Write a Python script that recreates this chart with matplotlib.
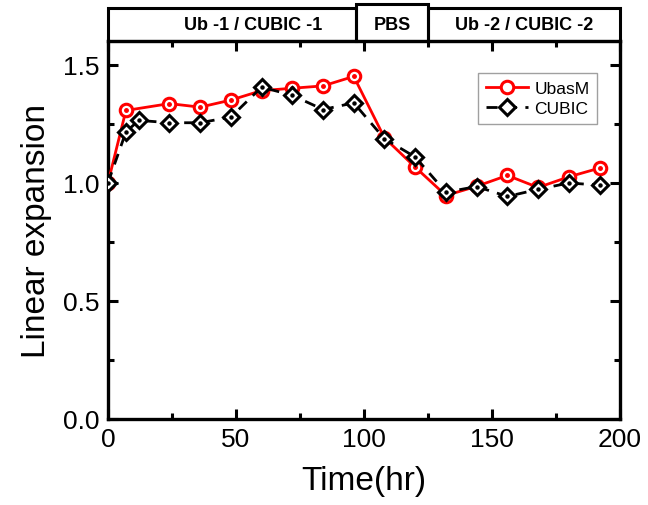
import matplotlib
matplotlib.use("Agg")
import matplotlib.pyplot as plt
from matplotlib.patches import Rectangle

plt.rcParams['font.family'] = ['Liberation Sans', 'DejaVu Sans']

time_ubasm = [0, 7, 24, 36, 48, 60, 72, 84, 96, 108, 120, 132, 144, 156, 168, 180, 192]
ubasm = [1.00, 1.306, 1.335, 1.32, 1.35, 1.39, 1.40, 1.41, 1.45, 1.19, 1.066, 0.946, 0.985, 1.031, 0.98, 1.025, 1.062]

time_cubic = [0, 7, 12, 24, 36, 48, 60, 72, 84, 96, 108, 120, 132, 144, 156, 168, 180, 192]
cubic = [1.00, 1.215, 1.264, 1.254, 1.254, 1.278, 1.405, 1.37, 1.31, 1.338, 1.186, 1.109, 0.96, 0.984, 0.942, 0.972, 0.999, 0.99]

phase_labels = ["Ub -1 / CUBIC -1", "PBS", "Ub -2 / CUBIC -2"]
phase_edges = [0, 97, 125, 200]

fig = plt.figure(figsize=(6.48, 5.06), dpi=100)
ax = fig.add_axes([108/648, 86/506, 512/648, 378/506])

ax.plot(time_ubasm, ubasm, color='red', lw=2, marker='o', ms=9, mfc='white',
        mec='red', mew=2.2, label='UbasM', zorder=3)
ax.plot(time_ubasm, ubasm, ls='none', marker='o', ms=2.5, color='red', zorder=3.1)
ax.plot(time_cubic, cubic, color='black', lw=2, ls=(0, (4, 3)), marker='D', ms=8,
        mfc='white', mec='black', mew=2.2, label='CUBIC', zorder=4)
ax.plot(time_cubic, cubic, ls='none', marker='o', ms=2.2, color='black', zorder=4.1)

ax.set_xlim(0, 200)
ax.set_ylim(0, 1.6)
ax.set_xticks([0, 50, 100, 150, 200])
ax.set_xticks([25, 75, 125, 175], minor=True)
ax.set_yticks([0.0, 0.5, 1.0, 1.5])
ax.set_yticks([0.25, 0.75, 1.25], minor=True)
ax.set_yticklabels(['0.0', '0.5', '1.0', '1.5'])
ax.tick_params(which='both', direction='in', top=True, right=True, width=2.2,
               labelsize=19, pad=6)
ax.tick_params(which='major', length=7)
ax.tick_params(which='minor', length=4)
for s in ax.spines.values():
    s.set_linewidth(2.4)
ax.set_xlabel('Time(hr)', fontsize=24, labelpad=10)
ax.set_ylabel('Linear expansion', fontsize=24, labelpad=8)

leg = ax.legend(loc='upper right', bbox_to_anchor=(0.956, 0.915), fontsize=12.5,
                frameon=True, fancybox=False, edgecolor='#888888',
                handlelength=2.4, borderpad=0.45, labelspacing=0.3,
                handletextpad=0.4, borderaxespad=0)
leg.get_frame().set_linewidth(1.0)

# top phase boxes
bx = fig.add_axes([108/648, 464/506, 512/648, 33/506])
bx.set_xlim(0, 200)
bx.set_ylim(0, 1)
bx.axis('off')
for i, lab in enumerate(phase_labels):
    x0, x1 = phase_edges[i], phase_edges[i + 1]
    top = 1.12 if lab == 'PBS' else 1.0
    bx.add_patch(Rectangle((x0, 0), x1 - x0, top, fill=False, lw=2.2,
                           ec='black', clip_on=False))
    xc = (x0 + x1) / 2 + (8 if i == 0 else 0)
    bx.text(xc, 0.5, lab, ha='center', va='center', fontsize=13,
            fontweight='bold')

fig.savefig('out.png', dpi=100)
